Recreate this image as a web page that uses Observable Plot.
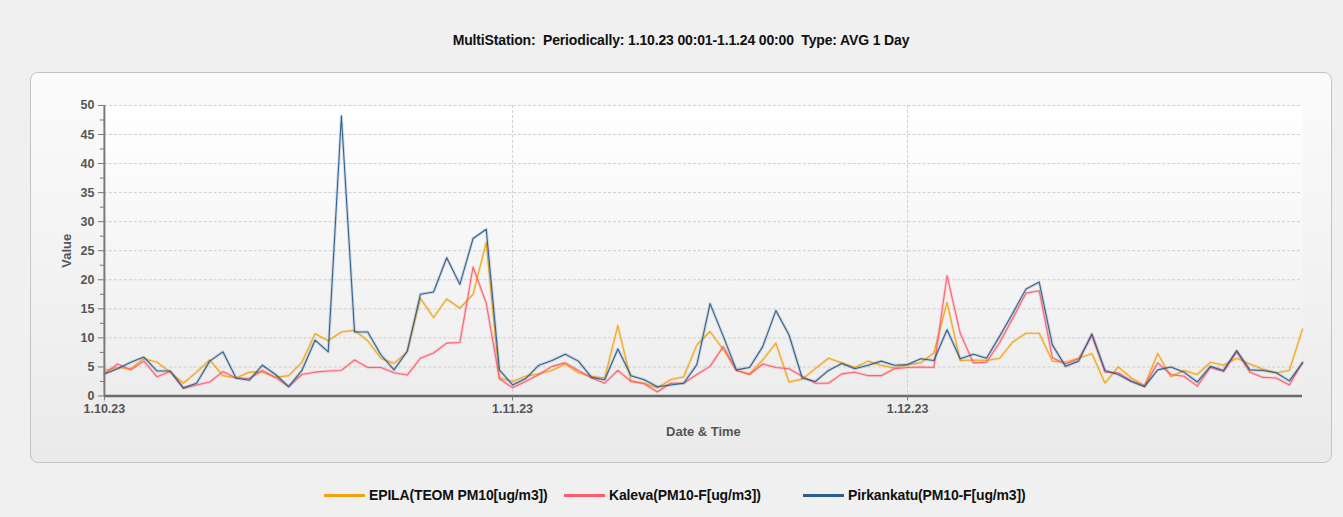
<!DOCTYPE html>
<html><head><meta charset="utf-8">
<script src="https://cdn.jsdelivr.net/npm/d3@7"></script>
<script src="https://cdn.jsdelivr.net/npm/@observablehq/plot@0.6"></script>
<style>
body{margin:0;background:#f0f0f0;font-family:"Liberation Sans",Arial,sans-serif;width:1343px;height:517px;position:relative;overflow:hidden}
#title{position:absolute;left:30px;width:1302px;top:32px;text-align:center;font-weight:bold;font-size:14px;letter-spacing:-0.15px;color:#111;white-space:pre}
#panel{position:absolute;left:30px;top:72px;width:1302px;height:391px;box-sizing:border-box;border:1px solid #c4c4c4;border-radius:8px;background:linear-gradient(#fbfbfb,#eaeaea)}
#panel svg{position:absolute;left:-1px;top:-1px}
#legend{position:absolute;left:0;top:486px;width:1343px;height:18px;font-weight:bold;font-size:14px;letter-spacing:-0.15px;color:#111}
.item{position:absolute;top:0;width:240px;height:18px;display:flex;align-items:center}
.sw{width:41px;height:3px;margin-right:4px}
</style></head>
<body>
<div id="title"></div>
<div id="panel"></div>
<div id="legend"></div>
<script>
const titleText = "MultiStation:  Periodically: 1.10.23 00:01-1.1.24 00:00  Type: AVG 1 Day";
const seriesNames = ["EPILA(TEOM PM10[ug/m3])", "Kaleva(PM10-F[ug/m3])", "Pirkankatu(PM10-F[ug/m3])"];
const seriesColors = ["#f2a20d", "#ff5b6b", "#2b5d8a"];
const dates = d3.utcDay.range(new Date(Date.UTC(2023, 9, 1)), new Date(Date.UTC(2024, 0, 1)));
const xTicks = [new Date(Date.UTC(2023, 9, 1)), new Date(Date.UTC(2023, 10, 1)), new Date(Date.UTC(2023, 11, 1))];
const yTicks = [0, 5, 10, 15, 20, 25, 30, 35, 40, 45, 50];
const yMinorTicks = [2.5, 7.5, 12.5, 17.5, 22.5, 27.5, 32.5, 37.5, 42.5, 47.5];

const epila = [4.4,4.9,4.7,6.4,5.8,4.1,2.2,4.1,6.2,3.5,3.1,4.1,4.1,3.2,3.5,5.8,10.7,9.5,11.0,11.3,9.5,6.5,5.6,7.6,16.8,13.5,16.7,15.1,17.5,26.4,3.1,2.5,3.4,3.8,4.4,5.5,4.0,3.4,3.1,12.1,2.6,2.2,1.4,2.8,3.3,8.8,11.1,8.0,4.4,3.8,6.2,9.1,2.4,2.9,4.7,6.5,5.7,4.9,6.0,5.3,4.8,5.4,5.7,7.4,16.1,6.1,6.2,6.1,6.5,9.3,10.8,10.8,6.0,5.8,6.5,7.3,2.2,5.0,3.1,1.8,7.3,3.3,4.4,3.7,5.8,5.3,6.5,5.5,4.6,4.0,4.4,11.5];
const kaleva = [3.8,5.5,4.5,6.0,3.3,4.2,1.3,1.9,2.4,4.2,3.1,3.0,4.4,3.2,1.6,3.7,4.1,4.3,4.4,6.2,4.9,4.9,4.0,3.6,6.5,7.4,9.1,9.2,22.2,16.0,3.0,1.4,2.5,3.7,5.1,5.7,4.4,3.1,2.2,4.4,2.5,2.1,0.7,2.2,2.2,3.7,5.1,8.5,4.4,3.7,5.5,4.9,4.7,3.4,2.2,2.2,3.8,4.1,3.5,3.5,4.7,4.9,5.0,4.9,20.7,10.8,5.7,5.8,9.2,13.4,17.7,18.1,6.6,5.5,6.4,10.4,4.1,4.0,2.6,1.7,5.7,3.7,3.4,1.7,4.9,4.2,7.6,4.1,3.2,3.1,1.9,5.8];
const pirkankatu = [3.8,4.7,5.8,6.7,4.3,4.3,1.4,2.2,6.0,7.6,3.1,2.7,5.3,3.7,1.6,4.4,9.6,7.6,48.2,11.0,11.0,7.1,4.5,7.7,17.5,17.9,23.8,19.2,27.1,28.7,4.5,1.9,3.0,5.3,6.1,7.2,6.0,3.2,2.8,8.1,3.5,2.8,1.6,1.9,2.2,5.4,15.9,10.3,4.5,4.9,8.5,14.7,10.5,3.1,2.5,4.4,5.6,4.7,5.3,6.0,5.3,5.4,6.4,6.1,11.4,6.4,7.2,6.5,10.3,14.3,18.4,19.6,8.8,5.1,6.0,10.7,4.4,3.7,2.5,1.6,4.5,5.0,4.1,2.4,5.1,4.4,7.8,4.5,4.4,4.0,2.6,5.7];

const seriesValues = [epila, kaleva, pirkankatu];
const rows = [];
seriesValues.forEach((vals, s) => vals.forEach((v, i) => rows.push({date: dates[i], value: v, series: seriesNames[s]})));

const fmt = d => `${d.getUTCDate()}.${d.getUTCMonth() + 1}.${String(d.getUTCFullYear()).slice(2)}`;

const lineMarks = [];
seriesNames.forEach((name, s) => {
  const data = rows.filter(r => r.series === name);
  lineMarks.push(Plot.line(data, {x: "date", y: "value", stroke: seriesColors[s], strokeWidth: 3, strokeOpacity: 0.2}));
  lineMarks.push(Plot.line(data, {x: "date", y: "value", stroke: seriesColors[s], strokeWidth: 1.1, strokeOpacity: 0.95}));
});

const chart = Plot.plot({
  width: 1302, height: 391,
  marginLeft: 74, marginRight: 28, marginTop: 33, marginBottom: 67,
  style: {background: "transparent", fontFamily: "Liberation Sans, Arial, sans-serif", fontSize: "12px", overflow: "visible"},
  x: {type: "utc", domain: [dates[0], dates[dates.length - 1]]},
  y: {domain: [0, 50]},
  marks: [
    Plot.frame({fill: "url(#plotbg)", stroke: "none"}),
    Plot.gridY(yTicks.filter(v => v > 0), {stroke: "#cfcfcf", strokeOpacity: 1, strokeDasharray: "3,2"}),
    Plot.gridX(xTicks.slice(1), {stroke: "#cfcfcf", strokeOpacity: 1, strokeDasharray: "3,2"}),
    ...lineMarks,
    Plot.ruleX([dates[0]], {stroke: "#7a7a7a", strokeWidth: 2}),
    Plot.ruleY([0], {stroke: "#6a6a6a", strokeWidth: 2.5}),
    Plot.axisY({ticks: yTicks, tickSize: 6, tickPadding: 4, label: null, fontWeight: "bold", fill: "#555", stroke: "#777", fontSize: 12.5}),
    Plot.axisY({ticks: yMinorTicks, tickSize: 4, text: null, label: null, stroke: "#777"}),
    Plot.axisX({ticks: xTicks, tickFormat: fmt, tickSize: 5, tickPadding: 3, label: null, fontWeight: "bold", fill: "#555", stroke: "#777", fontSize: 12.5}),
    Plot.text(["Value"], {frameAnchor: "left", dx: -38, rotate: -90, textAnchor: "middle", fontWeight: "bold", fill: "#555", fontSize: 13}),
    Plot.text(["Date & Time"], {frameAnchor: "bottom", dy: 36, textAnchor: "middle", lineAnchor: "middle", fontWeight: "bold", fill: "#555", fontSize: 13})
  ]
});

const svg = d3.select(chart);
const defs = svg.insert("defs", ":first-child");
const grad = defs.append("linearGradient").attr("id", "plotbg").attr("x1", 0).attr("y1", 0).attr("x2", 0).attr("y2", 1);
grad.append("stop").attr("offset", "0%").attr("stop-color", "#ffffff");
grad.append("stop").attr("offset", "100%").attr("stop-color", "#ededed");

document.getElementById("panel").appendChild(chart);
document.getElementById("title").textContent = titleText;

const legendLeft = [324, 564, 803];
const legend = d3.select("#legend");
seriesNames.forEach((name, s) => {
  const it = legend.append("div").attr("class", "item").style("left", legendLeft[s] + "px");
  it.append("div").attr("class", "sw").style("background", seriesColors[s]);
  it.append("span").text(name);
});
</script>
</body></html>
